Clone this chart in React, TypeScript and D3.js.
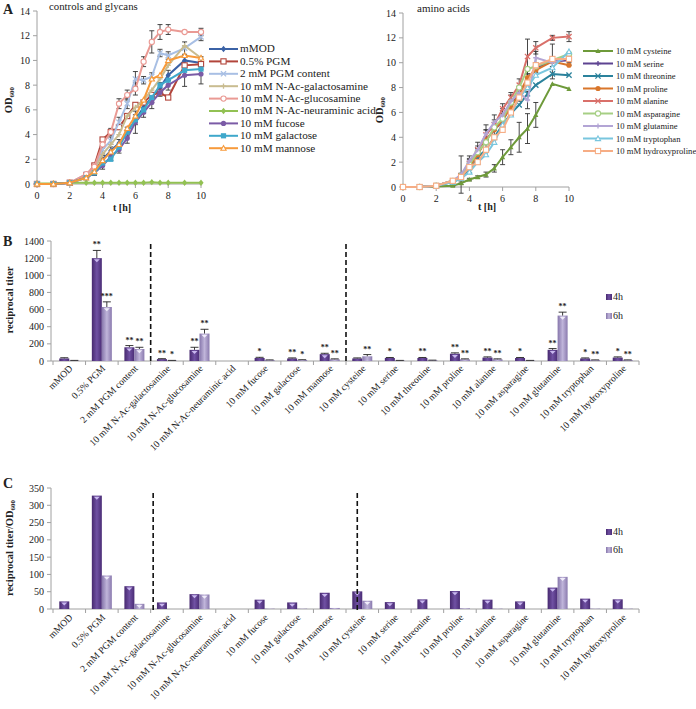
import React from 'react';
import * as d3 from 'd3';

// ---------- DATA ----------
const times = [0, 1, 2, 3, 3.5, 4, 4.5, 5, 5.5, 6, 6.5, 7, 7.5, 8, 9, 10];

// Panel A left: controls and glycans (OD600)
const odMMOD = [0, 0, 0.1, 0.6, 1.0, 2.0, 2.7, 3.3, 4.2, 5.2, 6.2, 7.0, 7.8, 8.8, 10.0, 9.8];
const odPGM = [0, 0, 0.1, 0.7, 1.5, 3.6, 4.2, 4.6, 5.5, 6.4, 6.6, 7.2, 7.4, 7.0, 9.6, 9.7];
const odPGMContent = [0, 0, 0.1, 0.8, 1.2, 2.8, 3.5, 5.0, 6.5, 8.5, 8.4, 8.7, 10.6, 10.4, 11.0, 11.9];
const odGalNAc = [0, 0, 0.1, 0.6, 1.2, 2.4, 3.2, 4.0, 5.5, 6.2, 6.8, 7.6, 8.5, 9.6, 11.2, 10.2];
const odGlcNAc = [0, 0, 0.1, 0.8, 1.4, 3.2, 4.2, 6.5, 7.2, 7.7, 9.9, 11.5, 12.3, 12.5, 12.3, 12.3];
const odNeu = [0.05, 0.05, 0.1, 0.1, 0.1, 0.1, 0.1, 0.1, 0.1, 0.1, 0.1, 0.15, 0.1, 0.1, 0.1, 0.1];
const odFucose = [0, 0, 0.1, 0.5, 0.9, 1.5, 2.2, 2.8, 3.7, 5.0, 5.8, 6.6, 7.4, 8.0, 8.8, 8.9];
const odGalactose = [0, 0, 0.1, 0.5, 0.9, 1.7, 2.0, 3.0, 4.2, 5.2, 6.0, 7.0, 8.0, 8.4, 9.2, 9.3];
const odMannose = [0, 0, 0.1, 0.5, 1.0, 1.9, 2.6, 3.2, 4.5, 5.5, 6.8, 8.5, 8.8, 10.0, 10.4, 10.2];

const errPGMContent = [0, 0, 0, 0.1, 0.2, 0.3, 0.3, 0.4, 0.4, 0.6, 0.3, 0.3, 0.3, 0.3, 0.5, 0.3];
const errGlcNAc = [0, 0, 0, 0.1, 0.2, 0.3, 0.3, 0.4, 0.4, 0.5, 0.4, 0.9, 0.6, 0.4, 0, 0.3];
const errFucose = [0, 0, 0, 0.1, 0.2, 0.3, 0.3, 0.3, 0.4, 0.9, 0.4, 0.5, 0.3, 0.4, 0.9, 0.8];
const errMMOD = [0, 0, 0, 0.1, 0.3, 0.3, 0.3, 0.3, 0.4, 0.4, 0.5, 0.4, 0.4, 0.4, 0.4, 0.5];

// Panel A right: amino acids (OD600)
const odCys = [0, 0, 0.05, 0.1, 0.3, 0.6, 0.8, 1.0, 1.5, 2.4, 3.2, 4.0, 4.7, 5.8, 8.3, 7.9];
const odSer = [0, 0, 0.1, 0.5, 0.9, 2.0, 2.7, 3.8, 4.6, 5.3, 6.6, 7.5, 8.6, 9.6, 10.1, 10.2];
const odThr = [0, 0, 0.1, 0.4, 0.7, 1.3, 2.4, 3.0, 4.0, 5.0, 5.9, 6.6, 7.5, 8.2, 9.1, 9.0];
const odPro = [0, 0, 0.1, 0.5, 0.8, 1.6, 2.6, 3.8, 4.6, 5.4, 6.4, 7.5, 8.8, 9.4, 10.1, 9.8];
const odAla = [0, 0, 0.1, 0.5, 0.9, 1.9, 3.0, 4.2, 5.0, 6.3, 7.2, 8.2, 10.5, 11.2, 12.0, 12.1];
const odAsn = [0, 0, 0.1, 0.5, 0.9, 1.8, 2.8, 3.6, 4.8, 5.5, 6.8, 8.0, 9.5, 9.7, 10.2, 10.7];
const odGln = [0, 0, 0.1, 0.5, 1.0, 2.1, 3.0, 4.3, 5.2, 5.8, 6.9, 7.6, 7.0, 10.4, 10.0, 10.4];
const odTrp = [0, 0, 0.1, 0.4, 0.7, 1.2, 2.0, 2.6, 3.6, 5.0, 5.8, 7.2, 8.0, 9.0, 9.6, 10.9];
const odHyp = [0, 0, 0.1, 0.5, 0.8, 1.6, 2.0, 3.0, 4.0, 4.6, 6.0, 7.2, 8.4, 9.8, 10.3, 10.3];

const errCys = [0, 0, 0, 0.05, 0.1, 0.1, 0.1, 0.2, 0.3, 0.6, 0.6, 1.2, 1.2, 1.0, 0, 0];
const errAla = [0, 0, 0, 0.1, 0.2, 0.3, 0.3, 0.4, 0.4, 0.4, 0.4, 0.5, 1.4, 0.5, 0.2, 0.4];
const errGln = [0, 0, 0, 0.1, 1.5, 0.4, 0.6, 0.7, 0.6, 0.5, 0.5, 0.5, 0.7, 0.5, 0.3, 0.4];
const errSer = [0, 0, 0, 0.1, 0.2, 0.3, 0.4, 0.8, 0.6, 0.5, 0.4, 0.6, 0.5, 0.4, 1.4, 0.4];

// Panels B and C
const categories = [
  'mMOD', '0.5% PGM', '2 mM PGM content', '10 mM N-Ac-galactosamine', '10 mM N-Ac-glucosamine',
  '10 mM N-Ac-neuraminic acid', '10 mM fucose', '10 mM galactose', '10 mM mannose', '10 mM cysteine',
  '10 mM serine', '10 mM threonine', '10 mM proline', '10 mM alanine', '10 mM asparagine',
  '10 mM glutamine', '10 mM tryptophan', '10 mM hydroxyproline',
];
const titer4h = [30, 1200, 160, 22, 130, 0, 35, 30, 80, 30, 35, 35, 85, 40, 35, 130, 30, 40];
const titer6h = [5, 630, 140, 5, 320, 0, 10, 12, 20, 55, 5, 8, 20, 20, 5, 530, 10, 10];
const titerErr4h = [8, 90, 20, 5, 30, 0, 8, 6, 10, 6, 6, 6, 10, 8, 6, 15, 6, 8];
const titerErr6h = [2, 60, 20, 2, 50, 0, 3, 3, 5, 20, 2, 2, 5, 5, 2, 40, 3, 3];
const star4h = ['', '**', '**', '**', '**', '', '*', '**', '**', '', '*', '**', '**', '**', '*', '**', '*', '*'];
const star6h = ['', '***', '**', '*', '**', '', '', '*', '**', '**', '', '', '**', '**', '', '**', '**', '**'];

const ratio4h = [22, 328, 66, 19, 43, 0, 27, 19, 47, 51, 20, 28, 52, 27, 22, 62, 30, 28];
const ratio6h = [0, 97, 15, 0, 42, 0, 1, 1, 3, 24, 0, 0, 2, 1, 0, 93, 1, 1];

const ticksOD = [0, 2, 4, 6, 8, 10, 12, 14];
const ticksT = [0, 2, 4, 6, 8, 10];
const ticksTiter = [0, 200, 400, 600, 800, 1000, 1200, 1400];
const ticksRatio = [0, 50, 100, 150, 200, 250, 300, 350];

type Marker = 'diamond' | 'squareOpen' | 'x' | 'plus' | 'circleOpen' | 'circle' | 'square' | 'triangleOpen' | 'triangle';
interface Series { name: string; values: number[]; err?: number[]; color: string; marker: Marker; }

const glycanSeries: Series[] = [
  { name: 'mMOD', values: odMMOD, err: errMMOD, color: '#3b62a6', marker: 'diamond' },
  { name: '0.5% PGM', values: odPGM, color: '#b2453b', marker: 'squareOpen' },
  { name: '2 mM PGM content', values: odPGMContent, err: errPGMContent, color: '#a8bfe4', marker: 'x' },
  { name: '10 mM N-Ac-galactosamine', values: odGalNAc, color: '#c9bc90', marker: 'plus' },
  { name: '10 mM N-Ac-glucosamine', values: odGlcNAc, err: errGlcNAc, color: '#ea9a94', marker: 'circleOpen' },
  { name: '10 mM N-Ac-neuraminic acid', values: odNeu, color: '#92c153', marker: 'diamond' },
  { name: '10 mM fucose', values: odFucose, err: errFucose, color: '#7b5ba6', marker: 'circle' },
  { name: '10 mM galactose', values: odGalactose, color: '#3fa8cb', marker: 'square' },
  { name: '10 mM mannose', values: odMannose, color: '#f79a3b', marker: 'triangleOpen' },
];

const aminoSeries: Series[] = [
  { name: '10 mM cysteine', values: odCys, err: errCys, color: '#6e9a3a', marker: 'triangle' },
  { name: '10 mM serine', values: odSer, err: errSer, color: '#5d4391', marker: 'plus' },
  { name: '10 mM threonine', values: odThr, color: '#2b829c', marker: 'x' },
  { name: '10 mM proline', values: odPro, color: '#d9762b', marker: 'circle' },
  { name: '10 mM alanine', values: odAla, err: errAla, color: '#d9706a', marker: 'x' },
  { name: '10 mM asparagine', values: odAsn, color: '#a6cf84', marker: 'circleOpen' },
  { name: '10 mM glutamine', values: odGln, err: errGln, color: '#b3a5d5', marker: 'plus' },
  { name: '10 mM tryptophan', values: odTrp, color: '#79c6de', marker: 'triangleOpen' },
  { name: '10 mM hydroxyproline', values: odHyp, color: '#f6ad85', marker: 'squareOpen' },
];

const FONT = '"Liberation Serif", "Times New Roman", serif';
const AXIS = '#a0a0a0';
const INK = '#222';

function MarkerShape({ type, x, y, color }: { type: Marker; x: number; y: number; color: string }) {
  const s = 2.6;
  switch (type) {
    case 'diamond':
      return <path d={`M${x},${y - s - 0.6}L${x + s},${y}L${x},${y + s + 0.6}L${x - s},${y}Z`} fill={color} />;
    case 'squareOpen':
      return <rect x={x - s} y={y - s} width={2 * s} height={2 * s} fill="#fff" stroke={color} strokeWidth={1.1} />;
    case 'square':
      return <rect x={x - s} y={y - s} width={2 * s} height={2 * s} fill={color} />;
    case 'circle':
      return <circle cx={x} cy={y} r={s} fill={color} />;
    case 'circleOpen':
      return <circle cx={x} cy={y} r={s} fill="#fff" stroke={color} strokeWidth={1.1} />;
    case 'x':
      return <path d={`M${x - s},${y - s}L${x + s},${y + s}M${x - s},${y + s}L${x + s},${y - s}`} stroke={color} strokeWidth={1.3} />;
    case 'plus':
      return <path d={`M${x - s},${y}L${x + s},${y}M${x},${y - s}L${x},${y + s}`} stroke={color} strokeWidth={1.3} />;
    case 'triangle':
      return <path d={`M${x},${y - s}L${x + s},${y + s * 0.8}L${x - s},${y + s * 0.8}Z`} fill={color} />;
    case 'triangleOpen':
      return <path d={`M${x},${y - s}L${x + s},${y + s * 0.8}L${x - s},${y + s * 0.8}Z`} fill="#fff" stroke={color} strokeWidth={1.1} />;
  }
  return null;
}

interface LinePanelProps {
  series: Series[];
  x0: number; x1: number; y0: number; y1: number;
  title: string; titleX: number; titleFont: number;
  legendLineX: number; legendLineW: number; legendTextX: number; legendY: number; legendStep: number; legendFont: number;
  odLabelX: number; odLabelY: number; tLabelX: number; tLabelY: number;
}

function LinePanel(p: LinePanelProps) {
  const x = d3.scaleLinear().domain([0, 10]).range([p.x0, p.x1]);
  const y = d3.scaleLinear().domain([0, 14]).range([p.y0, p.y1]);
  const line = d3.line<number>().x((_, i) => x(times[i])).y((v) => y(v));
  return (
    <g fontFamily={FONT}>
      <line x1={p.x0} x2={p.x0} y1={p.y0} y2={p.y1} stroke={AXIS} />
      <line x1={p.x0} x2={p.x1} y1={p.y0} y2={p.y0} stroke={AXIS} />
      {ticksOD.map((t) => (
        <g key={'y' + t}>
          <line x1={p.x0 - 4} x2={p.x0} y1={y(t)} y2={y(t)} stroke={AXIS} />
          <text x={p.x0 - 7} y={y(t) + 3.5} textAnchor="end" fontSize={10} fill={INK}>{t}</text>
        </g>
      ))}
      {ticksT.map((t) => (
        <g key={'x' + t}>
          <line x1={x(t)} x2={x(t)} y1={p.y0} y2={p.y0 + 4} stroke={AXIS} />
          <text x={x(t)} y={p.y0 + 15} textAnchor="middle" fontSize={10} fill={INK}>{t}</text>
        </g>
      ))}
      <text x={p.tLabelX} y={p.tLabelY} textAnchor="middle" fontSize={10} fontWeight="bold" fill={INK}>t [h]</text>
      <text transform={`translate(${p.odLabelX},${p.odLabelY}) rotate(-90)`} textAnchor="middle" fontSize={10.5} fontWeight="bold" fill={INK}>
        OD<tspan fontSize={7} dy={2}>600</tspan>
      </text>
      <text x={p.titleX} y={p.y1 - 1} fontSize={p.titleFont} fill={INK}>{p.title}</text>
      {p.series.map((s) => (
        <g key={s.name}>
          {s.err && s.values.map((v, i) => s.err![i] > 0 ? (
            <g key={i} stroke="#333" strokeWidth={0.9}>
              <line x1={x(times[i])} x2={x(times[i])} y1={y(v - s.err![i])} y2={y(v + s.err![i])} />
              <line x1={x(times[i]) - 2.5} x2={x(times[i]) + 2.5} y1={y(v - s.err![i])} y2={y(v - s.err![i])} />
              <line x1={x(times[i]) - 2.5} x2={x(times[i]) + 2.5} y1={y(v + s.err![i])} y2={y(v + s.err![i])} />
            </g>
          ) : null)}
        </g>
      ))}
      {p.series.map((s) => (
        <g key={s.name + 'l'}>
          <path d={line(s.values) || ''} fill="none" stroke={s.color} strokeWidth={2} />
          {s.values.map((v, i) => <MarkerShape key={i} type={s.marker} x={x(times[i])} y={y(v)} color={s.color} />)}
        </g>
      ))}
      {p.series.map((s, i) => {
        const ly = p.legendY + i * p.legendStep;
        return (
          <g key={s.name + 'leg'}>
            <line x1={p.legendLineX} x2={p.legendLineX + p.legendLineW} y1={ly} y2={ly} stroke={s.color} strokeWidth={2} />
            <MarkerShape type={s.marker} x={p.legendLineX + p.legendLineW / 2} y={ly} color={s.color} />
            <text x={p.legendTextX} y={ly + 3.4} fontSize={p.legendFont} fill={INK}>{s.name}</text>
          </g>
        );
      })}
    </g>
  );
}

interface BarPanelProps {
  v4: number[]; v6: number[]; e4?: number[]; e6?: number[]; s4?: string[]; s6?: string[];
  max: number; ticks: number[]; yBase: number; yTop: number;
  dashA: number; dashB: number; dashTop: number; dashBottom: number;
  legendY: number; legendStep: number; labelDy: number;
  yLabel: React.ReactNode; yLabelY: number; letter: string; letterY: number;
}

function BarPanel(p: BarPanelProps) {
  const xb = d3.scaleBand<string>().domain(categories).range([53, 639]);
  const y = d3.scaleLinear().domain([0, p.max]).range([p.yBase, p.yTop]);
  const bw = 10;
  const cx = (c: string) => (xb(c) || 0) + xb.bandwidth() / 2;
  const bar = (c: string, v: number, left: boolean, key: string) => {
    const bx = left ? cx(c) - bw : cx(c);
    const top = y(v);
    const h = p.yBase - top;
    return (
      <g key={key}>
        <rect x={bx} y={top} width={bw} height={Math.max(h, 0)} fill={left ? 'url(#g4)' : 'url(#g6)'} />
        {h > 5 && (
          <path d={`M${bx + 2},${top + 1.2}L${bx + bw - 2},${top + 1.2}L${bx + bw / 2},${top + 4.2}Z`} fill={left ? '#c9b8ef' : '#f0ecfa'} />
        )}
      </g>
    );
  };
  const err = (c: string, v: number, e: number, left: boolean, key: string) => {
    if (!e) return null;
    const ex = left ? cx(c) - bw / 2 : cx(c) + bw / 2;
    return (
      <g key={key} stroke={INK} strokeWidth={0.9}>
        <line x1={ex} x2={ex} y1={y(v)} y2={y(v + e)} />
        <line x1={ex - 4} x2={ex + 4} y1={y(v + e)} y2={y(v + e)} />
      </g>
    );
  };
  return (
    <g fontFamily={FONT}>
      <text x={3} y={p.letterY} fontSize={14} fontWeight="bold" fill={INK}>{p.letter}</text>
      <line x1={51} x2={51} y1={p.yTop} y2={p.yBase} stroke={AXIS} />
      <line x1={51} x2={639} y1={p.yBase} y2={p.yBase} stroke={AXIS} />
      {p.ticks.map((t) => (
        <g key={t}>
          <line x1={47} x2={51} y1={y(t)} y2={y(t)} stroke={AXIS} />
          <text x={44} y={y(t) + 3.5} textAnchor="end" fontSize={10} fill={INK}>{t}</text>
        </g>
      ))}
      {categories.map((c, i) => (
        <line key={'t' + i} x1={(xb(c) || 0) + xb.bandwidth()} x2={(xb(c) || 0) + xb.bandwidth()} y1={p.yBase} y2={p.yBase + 4} stroke={AXIS} />
      ))}
      <line x1={53} x2={53} y1={p.yBase} y2={p.yBase + 4} stroke={AXIS} />
      {categories.map((c, i) => bar(c, p.v4[i], true, 'a' + i))}
      {categories.map((c, i) => bar(c, p.v6[i], false, 'b' + i))}
      {p.e4 && categories.map((c, i) => err(c, p.v4[i], p.e4![i], true, 'e' + i))}
      {p.e6 && categories.map((c, i) => err(c, p.v6[i], p.e6![i], false, 'f' + i))}
      {p.s4 && categories.map((c, i) => p.s4![i] ? (
        <text key={'s' + i} x={cx(c) - bw / 2} y={y(p.v4[i] + (p.e4 ? p.e4[i] : 0)) - 3} textAnchor="middle" fontSize={8} fontWeight="bold" fill={INK}>{p.s4![i]}</text>
      ) : null)}
      {p.s6 && categories.map((c, i) => p.s6![i] ? (
        <text key={'u' + i} x={cx(c) + bw / 2} y={y(p.v6[i] + (p.e6 ? p.e6[i] : 0)) - 3} textAnchor="middle" fontSize={8} fontWeight="bold" fill={INK}>{p.s6![i]}</text>
      ) : null)}
      <line x1={p.dashA} x2={p.dashA} y1={p.dashTop} y2={p.dashBottom} stroke="#111" strokeWidth={1.6} strokeDasharray="5,3" />
      <line x1={p.dashB} x2={p.dashB} y1={p.dashTop} y2={p.dashBottom} stroke="#111" strokeWidth={1.6} strokeDasharray="5,3" />
      {categories.map((c, i) => (
        <text key={'l' + i} transform={`translate(${cx(c) + 4},${p.yBase + p.labelDy}) rotate(-45)`} textAnchor="end" fontSize={9.6} fill={INK}>{c}</text>
      ))}
      <rect x={606} y={p.legendY - 6} width={6} height={6} fill="url(#g4)" />
      <text x={613} y={p.legendY} fontSize={10} fill={INK}>4h</text>
      <rect x={606} y={p.legendY + p.legendStep - 6} width={6} height={6} fill="url(#g6)" />
      <text x={613} y={p.legendY + p.legendStep} fontSize={10} fill={INK}>6h</text>
      <text transform={`translate(13,${p.yLabelY}) rotate(-90)`} textAnchor="middle" fontSize={10.5} fontWeight="bold" fill={INK}>{p.yLabel}</text>
    </g>
  );
}

export default function App() {
  const xbRef = d3.scaleBand<string>().domain(categories).range([53, 639]);
  const boundary3 = xbRef(categories[3]) || 0;
  const boundary9 = xbRef(categories[9]) || 0;
  const cysCenter = boundary9 + xbRef.bandwidth() / 2 - 5;
  return (
    <svg width={696} height={709} style={{ position: 'absolute', left: 0, top: 0, background: '#fff' }}>
      <defs>
        <linearGradient id="g4" x1="0" x2="1" y1="0" y2="0">
          <stop offset="0" stopColor="#47296f" />
          <stop offset="0.5" stopColor="#7051a3" />
          <stop offset="1" stopColor="#4a2c75" />
        </linearGradient>
        <linearGradient id="g6" x1="0" x2="1" y1="0" y2="0">
          <stop offset="0" stopColor="#8676ab" />
          <stop offset="0.5" stopColor="#c0b5da" />
          <stop offset="1" stopColor="#8a7aae" />
        </linearGradient>
      </defs>
      <rect width={696} height={709} fill="#fff" />
      <text x={3} y={14} fontSize={14} fontWeight="bold" fontFamily={FONT} fill={INK}>A</text>
      <LinePanel series={glycanSeries} x0={37} x1={201} y0={184} y1={11} title="controls and glycans" titleX={49} titleFont={10.8}
        legendLineX={209} legendLineW={29} legendTextX={240} legendY={49} legendStep={12.4} legendFont={11.2}
        odLabelX={12} odLabelY={100} tLabelX={122} tLabelY={211} />
      <LinePanel series={aminoSeries} x0={403} x1={569} y0={187} y1={13} title="amino acids" titleX={417} titleFont={11}
        legendLineX={583} legendLineW={30} legendTextX={616} legendY={51} legendStep={12.5} legendFont={8.6}
        odLabelX={383} odLabelY={110} tLabelX={487} tLabelY={210} />
      <BarPanel v4={titer4h} v6={titer6h} e4={titerErr4h} e6={titerErr6h} s4={star4h} s6={star6h}
        max={1400} ticks={ticksTiter} yBase={361} yTop={241}
        dashA={boundary3} dashB={boundary9} dashTop={244} dashBottom={363}
        legendY={300} legendStep={19} labelDy={8}
        yLabel="reciprocal titer" yLabelY={300} letter="B" letterY={246} />
      <BarPanel v4={ratio4h} v6={ratio6h}
        max={350} ticks={ticksRatio} yBase={609} yTop={488}
        dashA={boundary3 + 2.5} dashB={cysCenter} dashTop={493} dashBottom={612}
        legendY={535} legendStep={18} labelDy={9}
        yLabel={<>reciprocal titer/OD<tspan fontSize={7} dy={2}>600</tspan></>} yLabelY={548} letter="C" letterY={488} />
    </svg>
  );
}
